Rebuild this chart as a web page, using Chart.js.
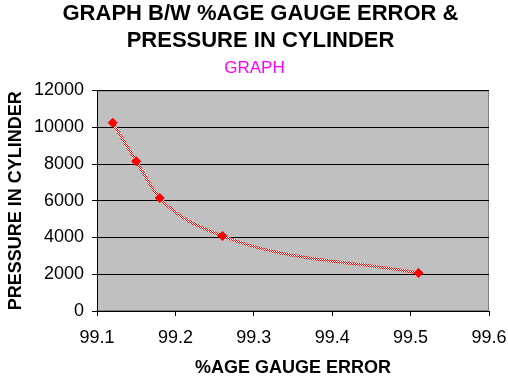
<!DOCTYPE html>
<html><head><meta charset="utf-8">
<script src="https://cdn.jsdelivr.net/npm/chart.js@4/dist/chart.umd.min.js"></script>
<style>html,body{margin:0;padding:0;background:#fff;}#c{display:block;}</style>
</head><body>
<canvas id="c" width="508" height="381"></canvas>
<script>
const gaugeError = [99.12, 99.15, 99.18, 99.26, 99.51];
const pressure = [10250, 8150, 6150, 4080, 2070];
const titleLines = ["GRAPH B/W %AGE GAUGE ERROR &", "PRESSURE IN CYLINDER"];
const subtitleText = "GRAPH";
const xTitle = "%AGE GAUGE ERROR";
const yTitle = "PRESSURE IN CYLINDER";

const FONT = 'Arial, "Liberation Sans", sans-serif';

// red/white checker pattern like the Excel line
const pc = document.createElement('canvas'); pc.width = 2; pc.height = 2;
const pctx = pc.getContext('2d');
pctx.fillStyle = '#ffffff'; pctx.fillRect(0,0,2,2);
pctx.fillStyle = '#ff0000'; pctx.fillRect(0,0,1,1); pctx.fillRect(1,1,1,1);
const linePattern = document.getElementById('c').getContext('2d').createPattern(pc, 'repeat');

const plotBg = {
  id: 'plotBg',
  afterLayout(chart) {
    // center the titles like the original (title slightly right of canvas center)
    if (chart.titleBlock) { chart.titleBlock.left = 0; chart.titleBlock.right = 521; }
    const sub = chart.boxes.find(b => b.options && b.options.text === subtitleText);
    if (sub) { sub.left = 0; sub.right = 509; }
  },
  beforeDraw(chart) {
    const {ctx, chartArea: a} = chart;
    ctx.save();
    ctx.fillStyle = '#c0c0c0';
    ctx.fillRect(a.left, a.top, a.right - a.left, a.bottom - a.top);
    ctx.strokeStyle = '#808080'; ctx.lineWidth = 1;
    ctx.strokeRect(a.left + 0.5, a.top + 0.5, a.right - a.left - 1, a.bottom - a.top - 1);
    ctx.restore();
  }
};

new Chart(document.getElementById('c'), {
  type: 'line',
  data: {
    datasets: [{
      data: gaugeError.map((x, i) => ({x: x, y: pressure[i]})),
      borderColor: linePattern,
      borderWidth: 3,
      tension: 0.4,
      cubicInterpolationMode: 'monotone',
      pointStyle: 'rectRot',
      pointRadius: 4.5,
      pointBackgroundColor: '#ff0000',
      pointBorderColor: '#ff0000',
      pointBorderWidth: 1,
      fill: false
    }]
  },
  options: {
    responsive: false,
    animation: false,
    devicePixelRatio: 1,
    layout: {padding: {left: 0, right: 0, top: 0, bottom: 0}},
    plugins: {
      legend: {display: false},
      tooltip: {enabled: false},
      title: {
        display: true, text: titleLines, color: '#000',
        font: {family: FONT, size: 22, weight: 'bold', lineHeight: 1.23},
        padding: {top: 0, bottom: 0}
      },
      subtitle: {
        display: true, text: subtitleText, color: '#ff00ff',
        font: {family: FONT, size: 17, weight: 'normal', lineHeight: 1.2},
        padding: {top: 4, bottom: 12}
      }
    },
    scales: {
      x: {
        type: 'linear', min: 99.1, max: 99.6,
        afterFit: s => { s.height = 70; s.paddingRight = 19; },
        ticks: {stepSize: 0.1, color: '#000', font: {family: FONT, size: 18},
          padding: 11, maxRotation: 0, callback: v => Number(v).toFixed(1)},
        grid: {drawOnChartArea: false, drawTicks: true, tickLength: 5, color: '#000'},
        border: {display: true, color: '#000', width: 1},
        title: {display: true, text: xTitle, color: '#000',
          font: {family: FONT, size: 18, weight: 'bold', lineHeight: 1.2}, padding: {top: 0, bottom: 2}}
      },
      y: {
        min: 0, max: 12000,
        afterFit: s => { s.width = 97; },
        ticks: {stepSize: 2000, color: '#000', font: {family: FONT, size: 18}, padding: 8,
          callback: v => String(v)},
        grid: {color: '#000', lineWidth: 1, drawTicks: true, tickLength: 5},
        border: {display: true, color: '#000', width: 1},
        title: {display: true, text: yTitle, color: '#000',
          font: {family: FONT, size: 18, weight: 'bold', lineHeight: 1.2}, padding: {top: 5, bottom: 0}}
      }
    }
  },
  plugins: [plotBg]
});
</script>
</body></html>
